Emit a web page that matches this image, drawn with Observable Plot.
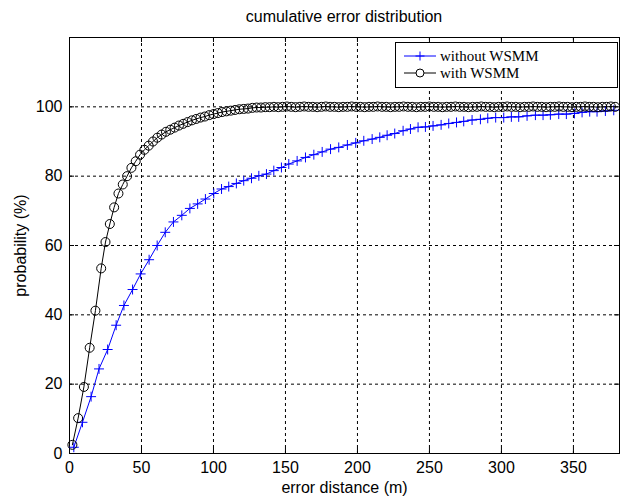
<!DOCTYPE html>
<html><head><meta charset="utf-8">
<script src="https://cdn.jsdelivr.net/npm/d3@7"></script>
<script src="https://cdn.jsdelivr.net/npm/@observablehq/plot@0.6"></script>
<style>
body{margin:0;background:#fff;}
#wrap{position:relative;width:620px;height:499px;font-family:"Liberation Sans",Arial,sans-serif;color:#000;}
#title{height:34px;line-height:34px;padding-left:69px;width:550px;text-align:center;font-size:16px;}
#legend{position:absolute;left:395px;top:42px;width:221px;height:44px;border:1px solid #000;background:#fff;font-family:"Liberation Serif","Times New Roman",serif;font-size:15px;}
.lrow{position:absolute;left:8px;height:16px;display:flex;align-items:center;white-space:nowrap;}
.lrow svg{display:block;margin-right:4px;}
svg{display:block;}
</style>
</head><body>
<div id="wrap">
  <div id="title"></div>
  <div id="chart"></div>
  <div id="legend"></div>
</div>
<script>
const titleText = "cumulative error distribution";
const xLabel = "error distance (m)";
const yLabel = "probability (%)";
const xTicks = [0, 50, 100, 150, 200, 250, 300, 350];
const yTicks = [0, 20, 40, 60, 80, 100];
const seriesNames = ["without WSMM", "with WSMM"];
const seriesColors = ["#0000ff", "#000000"];

// without WSMM (blue, plus markers)
const withoutX = [3,9,15,20.5,26.5,32.4,37.8,43.8,49.4,55.3,60.9,66.5,72.2,78,83.6,89,94.4,100.2,105.6,110.6,115.9,121,126.4,131.5,136.8,141.9,147.2,152.3,158.1,163.9,169.7,175.5,181.3,187,193,198.8,204.4,210.2,215.5,220.6,225.9,231.7,236.8,242.1,247.2,252.5,258.1,263.4,268.8,273.8,279.6,285.4,290.5,296,301.6,306.9,312,317.8,323.6,328.9,334,339.8,345.1,350.7,356,361.3,366.4,372.2,378];
const withoutY = [1.8,9.0,16.4,24.4,30.0,37.0,42.7,47.3,51.8,55.9,60.0,63.8,66.8,68.7,70.7,72.0,73.4,75.0,76.3,77.0,77.9,78.7,79.4,80.1,80.6,81.6,82.5,83.5,84.4,85.4,86.2,87.0,87.8,88.3,89.0,89.6,90.2,90.7,91.2,91.8,92.3,93.1,93.6,94.1,94.2,94.5,94.8,95.2,95.5,95.8,96.2,96.4,96.7,96.9,96.9,97.1,97.1,97.4,97.6,97.6,97.7,97.9,97.9,98.1,98.4,98.6,98.6,98.8,99.0];

// with WSMM (black, circle markers)
const withX = [2,6,10,14,18,22,
25,28,31,34,37,40,43,46,49,52,55,58,61,64,67,70,73,76,79,82,85,88,91,94,97,100,103,106,109,112,115,118,121,124,127,130,133,136,139,
142,145,148,151,154,157,160,163,166,169,172,175,178,181,184,187,190,193,196,199,
202,205,208,211,214,217,220,223,226,229,232,235,238,241,244,247,250,253,256,259,
262,265,268,271,274,277,280,283,286,289,292,295,298,301,304,307,310,313,316,319,
322,325,328,331,334,337,340,343,346,349,352,355,358,361,364,367,370,373,376,379];
const withY = [2.5,10.2,19.2,30.5,41.2,53.4,
61.0,66.2,71.0,75.0,77.6,80.0,82.4,84.3,86.2,87.6,88.8,90.0,91.1,92.0,92.8,93.4,94.0,94.6,95.1,95.6,96.1,96.5,96.9,97.2,97.6,97.9,98.2,98.5,98.7,98.9,99.1,99.3,99.4,99.5,99.7,99.8,99.8,99.9,99.9,
100,99.9,100,100.1,100,99.9,100,100.1,100,100,99.9,100,100.1,100,100,99.9,100,100,100.1,100,
100,99.9,100,100,100.1,100,100,99.9,100,100,100.1,100,100,99.9,100,100,100.1,100,100,99.9,
100,100,100.1,100,100,99.9,100,100,100.1,100,100,99.9,100,100,100.1,100,100,99.9,100,100,
100.1,100,100,99.9,100,100,100.1,100,100,99.9,100,100,100.1,100,100,99.9,100,100,100.1,100];

const without = withoutX.map((x, i) => ({x, y: withoutY[i]}));
const withW = withX.map((x, i) => ({x, y: withY[i]}));

document.getElementById("title").textContent = titleText;

const grid = {stroke: "#000", strokeOpacity: 1, strokeWidth: 1, strokeDasharray: "3,3"};
const tickStyle = {stroke: "#000", strokeOpacity: 1, strokeWidth: 1};

const chart = Plot.plot({
  width: 620,
  height: 465,
  marginLeft: 69,
  marginRight: 1,
  marginTop: 3,
  marginBottom: 46,
  style: {fontFamily: "'Liberation Sans', Arial, sans-serif", fontSize: "16px", color: "#000", background: "#fff", overflow: "visible"},
  x: {domain: [0, 382]},
  y: {domain: [0, 120]},
  marks: [
    Plot.gridX(xTicks.filter(d => d > 0), grid),
    Plot.gridY(yTicks.filter(d => d > 0), grid),
    Plot.ruleX(xTicks, {x: d => d, insetTop: 411, ...tickStyle}),
    Plot.ruleX(xTicks, {x: d => d, insetBottom: 411, ...tickStyle}),
    Plot.ruleY(yTicks, {y: d => d, insetRight: 545, ...tickStyle}),
    Plot.ruleY(yTicks, {y: d => d, insetLeft: 545, ...tickStyle}),
    Plot.frame({stroke: "#000", strokeWidth: 1}),
    Plot.axisX(xTicks, {tickSize: 0, tickPadding: 8, label: xLabel, labelAnchor: "center", labelArrow: "none", labelOffset: 39}),
    Plot.axisY(yTicks, {tickSize: 0, tickPadding: 7, label: yLabel, labelAnchor: "center", labelArrow: "none", labelOffset: 55}),
    Plot.line(without, {x: "x", y: "y", stroke: seriesColors[0], strokeWidth: 1}),
    Plot.dot(without, {x: "x", y: "y", symbol: "plus", r: 3.3, stroke: seriesColors[0], strokeWidth: 1}),
    Plot.line(withW, {x: "x", y: "y", stroke: seriesColors[1], strokeWidth: 1}),
    Plot.dot(withW, {x: "x", y: "y", r: 4.5, stroke: seriesColors[1], fill: "none", strokeWidth: 1})
  ]
});
document.getElementById("chart").appendChild(chart);

// legend
const legend = document.getElementById("legend");
const rowTops = [5, 22];
seriesNames.forEach((name, i) => {
  const row = document.createElement("div");
  row.className = "lrow";
  row.style.top = rowTops[i] + "px";
  const ns = "http://www.w3.org/2000/svg";
  const s = document.createElementNS(ns, "svg");
  s.setAttribute("width", 32); s.setAttribute("height", 16);
  const ln = document.createElementNS(ns, "line");
  ln.setAttribute("x1", 0); ln.setAttribute("x2", 32); ln.setAttribute("y1", 8); ln.setAttribute("y2", 8);
  ln.setAttribute("stroke", seriesColors[i]);
  s.appendChild(ln);
  if (i === 0) {
    const p = document.createElementNS(ns, "path");
    p.setAttribute("d", "M16,3.5V12.5M11.5,8H20.5");
    p.setAttribute("stroke", seriesColors[i]);
    s.appendChild(p);
  } else {
    const c = document.createElementNS(ns, "circle");
    c.setAttribute("cx", 16); c.setAttribute("cy", 8); c.setAttribute("r", 4);
    c.setAttribute("stroke", seriesColors[i]); c.setAttribute("fill", "#fff");
    s.appendChild(c);
  }
  row.appendChild(s);
  const t = document.createElement("span");
  t.textContent = name;
  row.appendChild(t);
  legend.appendChild(row);
});
</script>
</body></html>
